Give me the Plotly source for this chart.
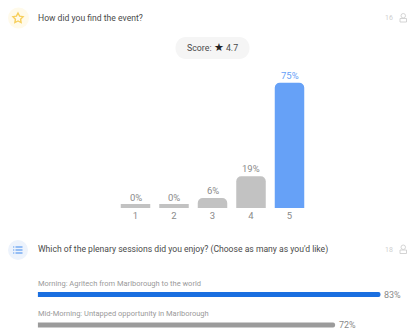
import math
import plotly.graph_objects as go

W, H = 408, 329

# Rating question
ratings = ["1", "2", "3", "4", "5"]
rating_pct = [0, 0, 6, 19, 75]
rating_labels = ["0%", "0%", "6%", "19%", "75%"]

# Plenary session question
sessions = ["Morning: Agritech from Marlborough to the world",
            "Mid-Morning: Untapped opportunity in Marlborough"]
session_pct = [83, 72]
session_labels = ["83%", "72%"]

GREY = "#c2c2c2"
BLUE = "#66a1f7"
DEEP_BLUE = "#1a6fe0"
BAR_GREY = "#9b9b9b"
TEXT = "#4a4a4a"
MUTED = "#8a8a8a"
FONT = "Roboto, Arial, sans-serif"


def px(x):
    return x / W


def py(y):
    return 1 - y / H


fig = go.Figure()

# Zero-percent bars are kept visible with a thick outline; the axis clips its lower half.
fig.add_trace(go.Bar(
    x=ratings, y=rating_pct, xaxis="x", yaxis="y",
    width=0.766,
    marker=dict(color=[GREY, GREY, GREY, GREY, BLUE],
                line=dict(color=GREY, width=[8, 8, 0, 0, 0]),
                cornerradius=5),
    cliponaxis=True, showlegend=False,
))

fig.add_trace(go.Bar(
    y=[0, 1], x=session_pct, orientation="h", xaxis="x2", yaxis="y2",
    width=0.16,
    marker=dict(color=[DEEP_BLUE, BAR_GREY], line=dict(width=0), cornerradius=3),
    cliponaxis=False, showlegend=False,
))

annotations = []


def label(x, y, text, size, color, anchor="left"):
    annotations.append(dict(xref="paper", yref="paper", x=px(x), y=py(y), text=text,
                            showarrow=False, xanchor=anchor, yanchor="middle",
                            font=dict(family=FONT, size=size, color=color)))


label(35.5, 17.5, "How did you find the event?", 8.6, TEXT)
label(35.5, 249, "Which of the plenary sessions did you enjoy? (Choose as many as you'd like)", 8.6, TEXT)
label(212.5, 47.5, '<span style="color:#222222;font-size:11px">★</span>'.join(["Score: ", " 4.7"]),
      8.8, "#4a4a4a", "center")
label(395, 18, "16", 7, "#cfcfcf", "right")
label(395, 249.5, "18", 7, "#cfcfcf", "right")

# Value labels above the rating bars, a little higher over the outlined zero bars
for i, (val, text) in enumerate(zip(rating_pct, rating_labels)):
    annotations.append(dict(xref="x", yref="y", x=i, y=val, text=text,
                            yshift=11 if val == 0 else 7.5,
                            showarrow=False, xanchor="center", yanchor="middle",
                            font=dict(family=FONT, size=9.5, color=BLUE if val == 75 else MUTED)))

for i, (name, val, text) in enumerate(zip(sessions, session_pct, session_labels)):
    annotations.append(dict(xref="x2", yref="y2", x=0, y=i, yshift=11.5, xshift=-2, text=name,
                            showarrow=False, xanchor="left", yanchor="middle",
                            font=dict(family=FONT, size=7.5, color="#9a9a9a")))
    annotations.append(dict(xref="x2", yref="y2", x=val, y=i, xshift=2, text=text,
                            showarrow=False, xanchor="left", yanchor="middle",
                            font=dict(family=FONT, size=9, color=MUTED)))

shapes = [
    dict(type="circle", xref="paper", yref="paper", x0=px(8), x1=px(29), y0=py(7.5), y1=py(28.5),
         fillcolor="#fffaea", line_width=0, layer="below"),
    dict(type="circle", xref="paper", yref="paper", x0=px(8), x1=px(28), y0=py(240), y1=py(260),
         fillcolor="#edf3fc", line_width=0, layer="below"),
    dict(type="path", xref="paper", yref="paper", layer="below", line_width=0, fillcolor="#f5f5f5",
         path=(f"M {px(186)} {py(37)} L {px(239)} {py(37)} "
               f"C {px(253)} {py(37)} {px(253)} {py(59)} {px(239)} {py(59)} "
               f"L {px(186)} {py(59)} C {px(172)} {py(59)} {px(172)} {py(37)} {px(186)} {py(37)} Z")),
]

# Outlined star in the first question's badge
star = []
for k in range(10):
    r = 5.3 if k % 2 == 0 else 2.7
    a = -math.pi / 2 + k * math.pi / 5
    star.append(f"{px(18 + r * math.cos(a))} {py(18.3 + r * math.sin(a))}")
shapes.append(dict(type="path", xref="paper", yref="paper",
                   path="M " + " L ".join(star) + " Z",
                   line=dict(color="#f7cf5c", width=1.4)))

# List glyph in the second question's badge
for row in (-3, 0, 3):
    yy = 250 + row
    shapes.append(dict(type="line", xref="paper", yref="paper", x0=px(15.5), x1=px(22.5),
                       y0=py(yy), y1=py(yy), line=dict(color="#5b9bf0", width=1.2)))
    shapes.append(dict(type="line", xref="paper", yref="paper", x0=px(13), x1=px(14.3),
                       y0=py(yy), y1=py(yy), line=dict(color="#5b9bf0", width=1.2)))

# Respondent glyphs next to the counts
for cy in (18, 249.5):
    shapes.append(dict(type="circle", xref="paper", yref="paper", x0=px(401), x1=px(405.5),
                       y0=py(cy - 4.5), y1=py(cy), line=dict(color="#cfcfcf", width=0.9)))
    shapes.append(dict(type="rect", xref="paper", yref="paper", x0=px(400), x1=px(406.5),
                       y0=py(cy + 0.5), y1=py(cy + 4), line=dict(color="#cfcfcf", width=0.9)))

fig.update_layout(
    width=W, height=H, margin=dict(l=0, r=0, t=0, b=0),
    paper_bgcolor="white", plot_bgcolor="rgba(0,0,0,0)",
    font=dict(family=FONT),
    annotations=annotations, shapes=shapes,
    xaxis=dict(domain=[px(116.25), px(308.75)], type="category", range=[-0.5, 4.5],
               showgrid=False, zeroline=False, showline=False, ticks="",
               tickfont=dict(family=FONT, size=9.5, color=MUTED), ticklen=0),
    yaxis=dict(domain=[py(208), py(60)], range=[0, 88.6], visible=False, showgrid=False, zeroline=False),
    xaxis2=dict(domain=[px(37.7), 1], range=[0, 89.66], visible=False, anchor="y2", showgrid=False, zeroline=False),
    yaxis2=dict(domain=[0, py(279.25)], range=[1.13, -0.5], visible=False, anchor="x2",
                showgrid=False, zeroline=False),
)

fig.write_html("out.html")
